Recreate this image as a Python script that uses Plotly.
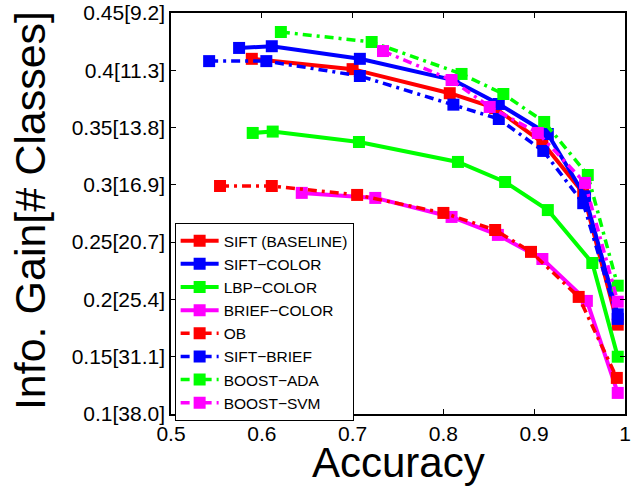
import plotly.graph_objects as go

names = ["SIFT (BASELINE)", "SIFT\u2212COLOR", "LBP\u2212COLOR", "BRIEF\u2212COLOR",
         "OB", "SIFT\u2212BRIEF", "BOOST\u2212ADA", "BOOST\u2212SVM"]

sift_x = [0.589, 0.700, 0.807, 0.857, 0.909, 0.954, 0.992]
sift_y = [0.410, 0.401, 0.380, 0.367, 0.337, 0.293, 0.178]

siftcolor_x = [0.575, 0.611, 0.708, 0.811, 0.861, 0.915, 0.956, 0.992]
siftcolor_y = [0.4195, 0.421, 0.410, 0.3915, 0.3706, 0.3444, 0.290, 0.187]

lbp_x = [0.590, 0.612, 0.707, 0.816, 0.868, 0.915, 0.964, 0.992]
lbp_y = [0.3453, 0.3465, 0.3374, 0.320, 0.3025, 0.278, 0.2318, 0.150]

brief_x = [0.644, 0.725, 0.809, 0.860, 0.909, 0.958, 0.992]
brief_y = [0.293, 0.2886, 0.272, 0.2563, 0.2353, 0.1987, 0.1184]

ob_x = [0.554, 0.611, 0.705, 0.800, 0.857, 0.8965, 0.949, 0.991]
ob_y = [0.299, 0.299, 0.2912, 0.2755, 0.2606, 0.2415, 0.2022, 0.1315]

siftbrief_x = [0.542, 0.605, 0.708, 0.811, 0.861, 0.910, 0.954, 0.992]
siftbrief_y = [0.408, 0.408, 0.395, 0.370, 0.3575, 0.3296, 0.284, 0.183]

ada_x = [0.621, 0.721, 0.820, 0.866, 0.911, 0.959, 0.992]
ada_y = [0.4334, 0.4247, 0.3968, 0.3793, 0.3549, 0.3086, 0.212]

svm_x = [0.7335, 0.809, 0.851, 0.904, 0.956, 0.992]
svm_y = [0.4168, 0.3915, 0.368, 0.3453, 0.3017, 0.198]

ytick_vals = [0.1, 0.15, 0.2, 0.25, 0.3, 0.35, 0.4, 0.45]
ytick_text = ["0.1[38.0]", "0.15[31.1]", "0.2[25.4]", "0.25[20.7]",
              "0.3[16.9]", "0.35[13.8]", "0.4[11.3]", "0.45[9.2]"]
xtick_vals = [0.5, 0.6, 0.7, 0.8, 0.9, 1.0]
xtick_text = ["0.5", "0.6", "0.7", "0.8", "0.9", "1"]

series = [
    (sift_x, sift_y, "#FF0000", "solid"),
    (siftcolor_x, siftcolor_y, "#0000FF", "solid"),
    (lbp_x, lbp_y, "#00FF00", "solid"),
    (brief_x, brief_y, "#FF00FF", "solid"),
    (ob_x, ob_y, "#FF0000", "dashdot"),
    (siftbrief_x, siftbrief_y, "#0000FF", "dashdot"),
    (ada_x, ada_y, "#00FF00", "dashdot"),
    (svm_x, svm_y, "#FF00FF", "dashdot"),
]

fig = go.Figure()
for name, (xs, ys, col, style) in zip(names, series):
    if style == "solid":
        line = dict(color=col, width=4, dash="solid")
    else:
        line = dict(color=col, width=3.5, dash="9px,5px,3px,5px")
    fig.add_trace(go.Scatter(
        x=xs, y=ys, name=name, mode="lines+markers",
        line=line,
        marker=dict(symbol="square", size=12, color=col, line=dict(width=0)),
    ))

axis_common = dict(
    showline=True, linecolor="black", linewidth=1.5, mirror="allticks",
    ticks="inside", ticklen=5, tickwidth=1, tickcolor="black",
    showgrid=False, zeroline=False, automargin=False,
    tickfont=dict(family="Liberation Sans, Arial", size=21, color="black"),
)

fig.update_layout(
    width=634, height=486,
    margin=dict(l=171, r=9, t=13, b=72),
    paper_bgcolor="white", plot_bgcolor="white",
    font=dict(family="Liberation Sans, Arial", color="black"),
    xaxis=dict(range=[0.5, 1.0], tickvals=xtick_vals, ticktext=xtick_text,
               ticklabelstandoff=0, **axis_common),
    yaxis=dict(range=[0.1, 0.45], tickvals=ytick_vals, ticktext=ytick_text,
               **axis_common),
    legend=dict(x=0.008, y=0.476, xanchor="left", yanchor="top",
                bgcolor="white", bordercolor="black", borderwidth=1,
                font=dict(size=15.5, color="black"),
                tracegroupgap=0, itemwidth=38),
    showlegend=True,
    annotations=[
        dict(text="Accuracy", x=0.5, y=-0.12, xref="paper", yref="paper",
             xanchor="center", yanchor="middle", showarrow=False,
             font=dict(size=42, color="black")),
        dict(text="Info. Gain[# Classes]", x=-0.311, y=0.508, xref="paper", yref="paper",
             xanchor="center", yanchor="middle", showarrow=False, textangle=-90,
             font=dict(size=43, color="black")),
    ],
)

fig.write_html("out.html", config={"displayModeBar": False},
               post_script="document.body.style.margin='0';document.body.style.padding='0';")
